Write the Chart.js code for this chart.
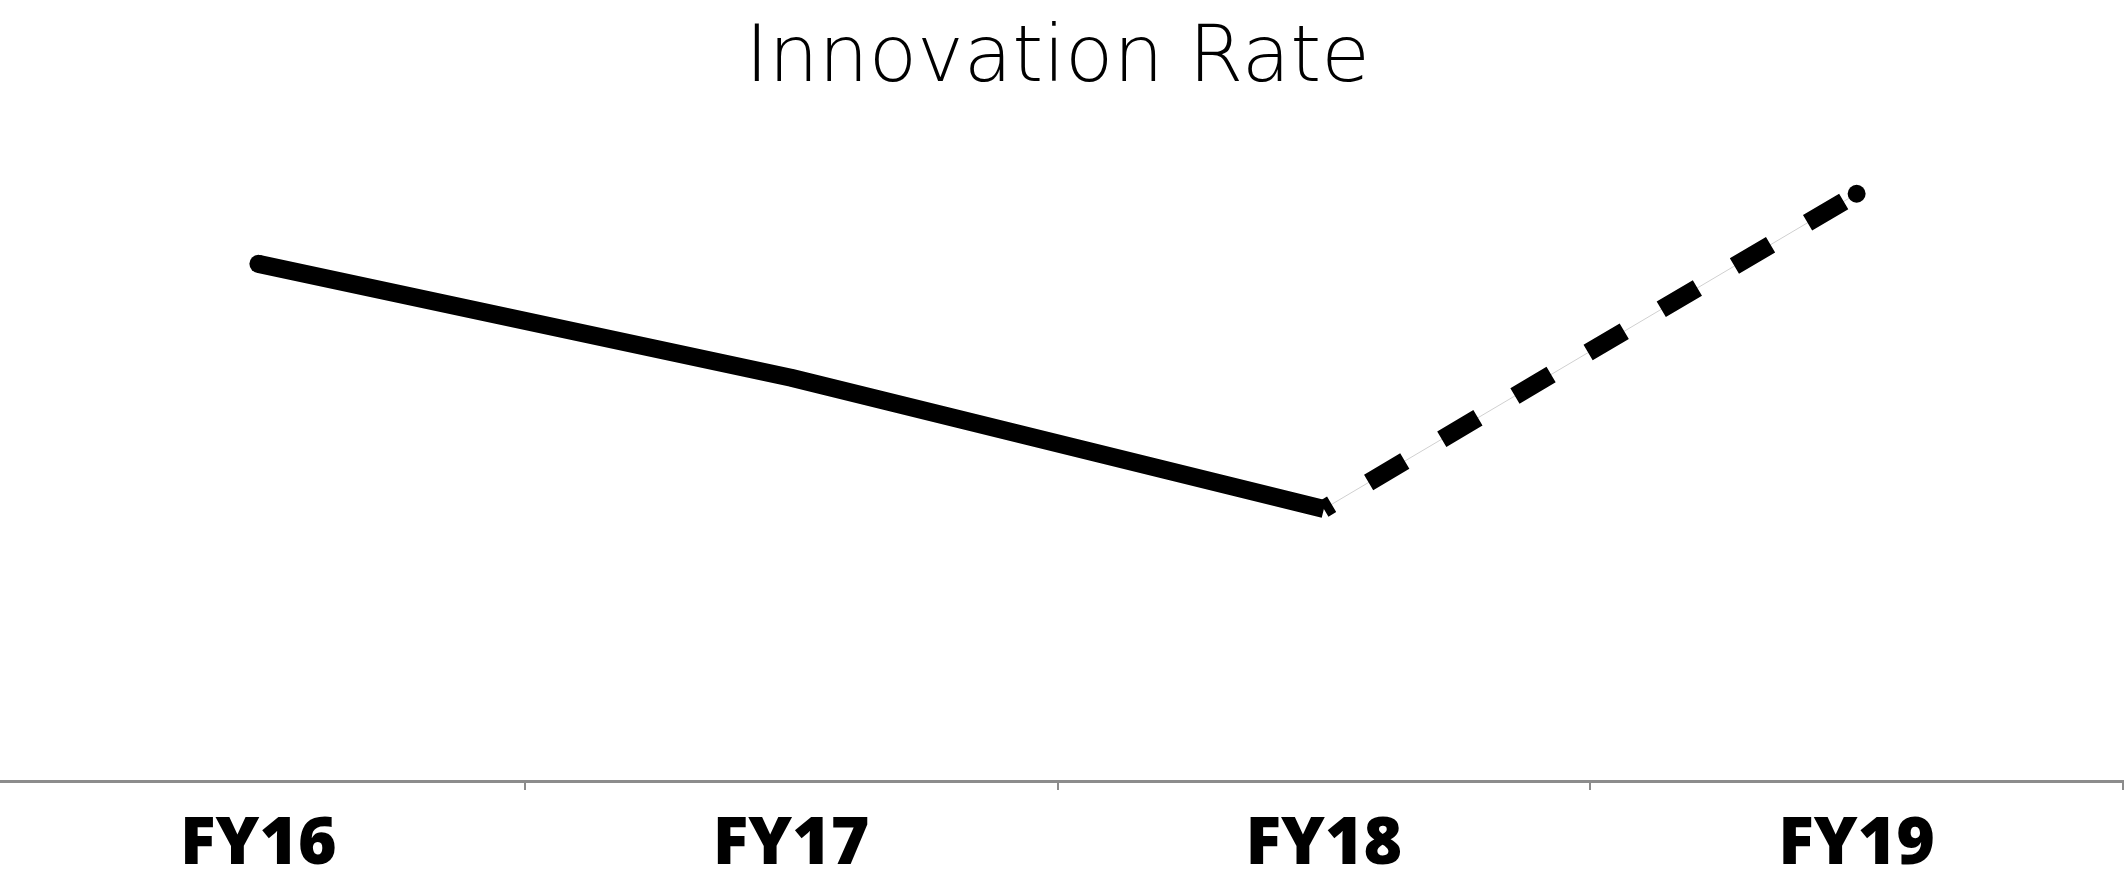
<!DOCTYPE html>
<html>
<head>
<meta charset="utf-8">
<script src="https://cdn.jsdelivr.net/npm/chart.js@4/dist/chart.umd.min.js"></script>
<style>
  html, body { margin: 0; padding: 0; background: #fff; overflow: hidden; }
  /* plot runs a few px past the left edge in the reference */
  #wrap { width: 2134px; height: 880px; margin-left: -8px; }
</style>
</head>
<body>
<div id="wrap"><canvas id="chart"></canvas></div>
<script>
// data
const categories = ['FY16', 'FY17', 'FY18', 'FY19'];
const innovationRate = [80.4, 62.7, 42.3, 91.3];
// hairline seen under the dashed projection
const projectionTrace = [null, null, 42.3, 91.3];

const ctx = document.getElementById('chart').getContext('2d');

const chart = new Chart(ctx, {
  type: 'line',
  data: {
    labels: categories,
    datasets: [
      {
        label: 'Innovation Rate',
        data: innovationRate,
        borderColor: '#000',
        backgroundColor: '#000',
        borderWidth: 18,
        borderCapStyle: 'butt',
        borderJoinStyle: 'round',
        tension: 0,
        pointRadius: [9, 0, 0, 9],
        pointHoverRadius: 0,
        pointBorderWidth: 0,
        order: 1,
        segment: {
          borderDash: (c) => c.p0DataIndex === 2 ? [42, 43] : undefined,
          borderDashOffset: (c) => c.p0DataIndex === 2 ? 33 : 0
        }
      },
      {
        label: 'trace',
        data: projectionTrace,
        borderColor: '#d0d0d0',
        borderWidth: 1,
        pointRadius: 0,
        order: 2
      }
    ]
  },
  options: {
    responsive: true,
    maintainAspectRatio: false,
    animation: false,
    layout: { autoPadding: false, padding: { left: 0, right: 3, top: 0, bottom: -20 } },
    plugins: {
      legend: { display: false },
      tooltip: { enabled: false },
      title: {
        display: true,
        text: 'Innovation Rate',
        color: '#000',
        font: { family: '"DejaVu Sans", sans-serif', size: 79, weight: '200' },
        padding: { top: 13, bottom: 30 }
      }
    },
    scales: {
      x: {
        offset: true,
        grid: {
          offset: true,
          drawOnChartArea: false,
          drawTicks: true,
          tickLength: 9,
          color: '#8c8c8c',
          lineWidth: 2
        },
        border: { display: true, color: '#8c8c8c', width: 3 },
        ticks: {
          color: '#000',
          padding: 22,
          font: { family: '"Open Sans", sans-serif', size: 66, weight: '800', lineHeight: 1 }
        }
      },
      y: {
        display: false,
        min: 0,
        max: 100
      }
    }
  }
});
</script>
</body>
</html>
